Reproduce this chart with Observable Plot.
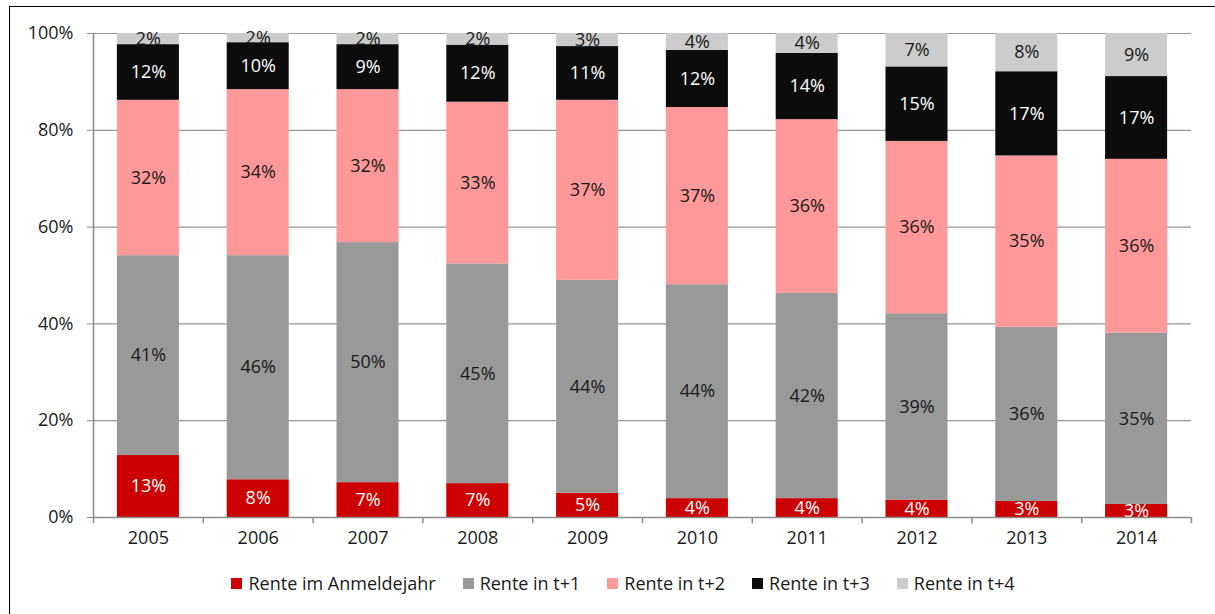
<!DOCTYPE html>
<html>
<head>
<meta charset="utf-8">
<script src="https://cdn.jsdelivr.net/npm/d3@7"></script>
<script src="https://cdn.jsdelivr.net/npm/@observablehq/plot@0.6"></script>
<style>
  html, body { margin: 0; padding: 0; background: #fff; width: 1215px; height: 614px; overflow: hidden; }
  #frame { position: absolute; left: 9px; top: 6px; width: 1220px; height: 620px; border: 1px solid #000; box-sizing: border-box; }
  #chart { position: absolute; left: 0; top: 0; }
  #legend { position: absolute; top: 571px; left: 0; width: 1246px; display: flex; justify-content: center; font-family: "Open Sans", sans-serif; font-size: 18px; color: #1a1a1a; }
  .item { display: flex; align-items: center; margin: 0 13.5px; }
  .sw { width: 11px; height: 11px; margin-right: 6px; }
</style>
</head>
<body>
<div id="frame"></div>
<div id="chart"></div>
<div id="legend"></div>
<script>
const years = ["2005","2006","2007","2008","2009","2010","2011","2012","2013","2014"];
const seriesNames = ["Rente im Anmeldejahr","Rente in t+1","Rente in t+2","Rente in t+3","Rente in t+4"];
const seriesColors = ["#cc0000","#999999","#ff9999","#0c0c0c","#cccccc"];
const labelColors = ["#ffffff","#1a1a1a","#1a1a1a","#ffffff","#1a1a1a"];
const anmelde = [12.8, 7.8, 7.2, 7.0, 5.0, 3.9, 3.9, 3.6, 3.3, 2.7];
const t1      = [41.3, 46.3, 49.6, 45.4, 44.0, 44.2, 42.4, 38.5, 36.0, 35.4];
const t2      = [32.1, 34.3, 31.6, 33.4, 37.2, 36.6, 35.9, 35.6, 35.4, 35.9];
const t3      = [11.5,  9.7,  9.3, 11.8, 11.1, 11.8, 13.7, 15.4, 17.4, 17.1];
const t4      = [ 2.3,  1.9,  2.3,  2.4,  2.7,  3.5,  4.1,  6.9,  7.9,  8.9];
const yTicks = [0, 20, 40, 60, 80, 100];

const seriesValues = [anmelde, t1, t2, t3, t4];
const data = [];
seriesValues.forEach((vals, si) => {
  vals.forEach((v, i) => data.push({year: years[i], series: seriesNames[si], value: v, si}));
});

const W = 1215, H = 555;
const mL = 93, mR = 24, mT = 33, mB = 38;
const step = (W - mL - mR) / years.length;
const font = '"Open Sans", sans-serif';

const chart = Plot.plot({
  width: W, height: H,
  marginLeft: mL, marginRight: mR, marginTop: mT, marginBottom: mB,
  style: {fontFamily: font, fontSize: "18px", color: "#1a1a1a", background: "transparent"},
  x: {domain: years, paddingInner: 0.435, paddingOuter: 0.2175, round: false, label: null},
  y: {domain: [0, 100], label: null},
  color: {domain: seriesNames, range: seriesColors},
  marks: [
    Plot.ruleY(yTicks.filter(d => d > 0), {stroke: "#959595", strokeWidth: 1.2}),
    Plot.barY(data, Plot.stackY({x: "year", y: "value", fill: "series", order: null})),
    Plot.text(data, Plot.stackY({x: "year", y: "value", z: "series", order: null,
      text: d => Math.round(d.value) + "%",
      fill: d => labelColors[d.si], fontSize: 18})),
    Plot.ruleY([0], {stroke: "#8c8c8c", strokeWidth: 1.5}),
    Plot.ruleX([years[0]], {y1: 0, y2: 100, dx: -step / 2, stroke: "#8c8c8c", strokeWidth: 1.5}),
    Plot.ruleX(years, {y1: 0, y2: -1.3, dx: -step / 2, stroke: "#8c8c8c", strokeWidth: 1.5}),
    Plot.ruleX([years[years.length - 1]], {y1: 0, y2: -1.3, dx: step / 2, stroke: "#8c8c8c", strokeWidth: 1.5}),
    Plot.axisY({ticks: yTicks, tickFormat: d => d + "%", tickSize: 6, tickPadding: 14, stroke: "#8c8c8c", fontSize: 18, label: null}),
    Plot.axisX({tickSize: 0, tickPadding: 14, fontSize: 18, label: null})
  ]
});
document.getElementById("chart").appendChild(chart);

const legend = document.getElementById("legend");
seriesNames.forEach((n, i) => {
  const it = document.createElement("div");
  it.className = "item";
  it.innerHTML = `<span class="sw" style="background:${seriesColors[i]}"></span><span>${n}</span>`;
  legend.appendChild(it);
});
</script>
</body>
</html>
